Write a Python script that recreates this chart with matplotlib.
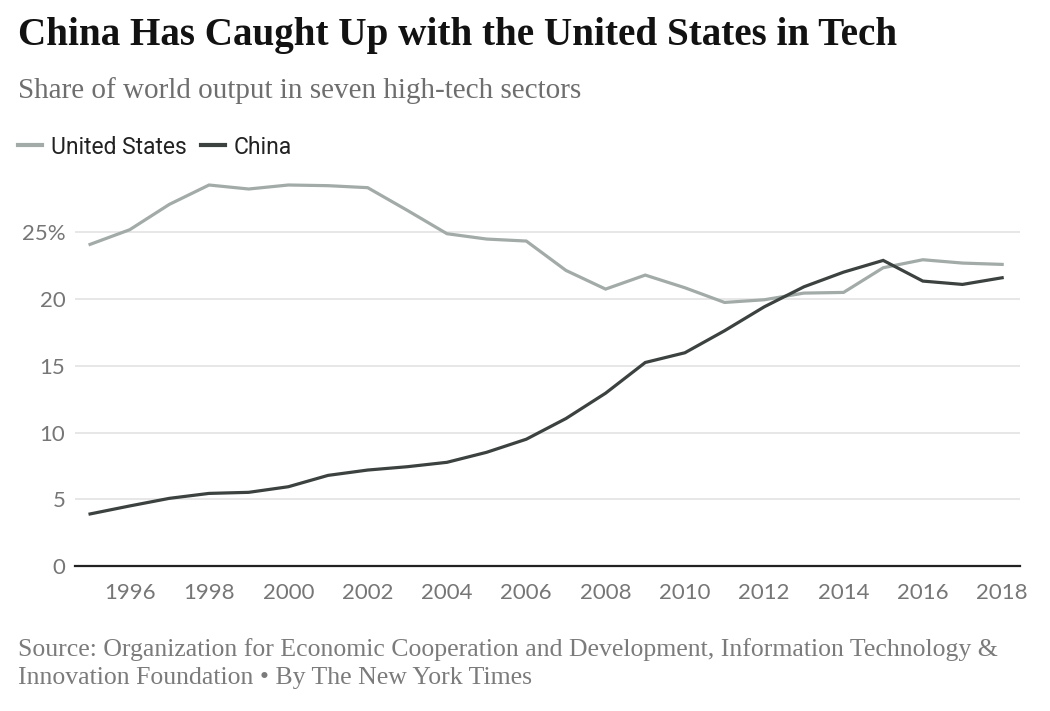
import matplotlib
matplotlib.use("Agg")
import matplotlib.pyplot as plt
from matplotlib.lines import Line2D

years = list(range(1995, 2019))
us = [24.1, 25.2, 27.1, 28.55, 28.25, 28.55, 28.5, 28.35, 26.65, 24.9, 24.5, 24.35,
      22.15, 20.75, 21.8, 20.85, 19.75, 19.95, 20.45, 20.5, 22.35, 22.95, 22.7, 22.6]
china = [3.9, 4.5, 5.07, 5.44, 5.52, 5.94, 6.79, 7.19, 7.44, 7.77, 8.52, 9.5,
         11.05, 12.95, 15.25, 15.98, 17.63, 19.42, 20.92, 22.02, 22.9, 21.35, 21.1, 21.6]
yticks = [0, 5, 10, 15, 20, 25]
ytick_labels = ["0", "5", "10", "15", "20", "25%"]
xticks = list(range(1996, 2019, 2))

title = "China Has Caught Up with the United States in Tech"
subtitle = "Share of world output in seven high-tech sectors"
source1 = "Source: Organization for Economic Cooperation and Development, Information Technology &"
source2 = "Innovation Foundation \u2022 By The New York Times"

US_COLOR = "#a2aba8"
CN_COLOR = "#3c4240"
TICK_COLOR = "#767676"

fig = plt.figure(figsize=(10.5, 7.11), dpi=100)
ax = fig.add_axes([75/1050, 1 - 566/711, 945/1050, (566-179)/711])

ax.plot(years, us, color=US_COLOR, lw=2.3, solid_joinstyle="miter", zorder=3)
ax.plot(years, china, color=CN_COLOR, lw=2.3, solid_joinstyle="miter", zorder=4)

ax.set_xlim(1994.62, 2018.45)
ax.set_ylim(0, 29)
ax.set_yticks(yticks)
ax.set_yticklabels(ytick_labels)
ax.set_xticks(xticks)
ax.set_xticklabels([str(x) for x in xticks])
ax.grid(axis="y", color="#e3e3e3", lw=1.2, zorder=0)
ax.grid(axis="x", visible=False)
for s in ["top", "right", "left"]:
    ax.spines[s].set_visible(False)
ax.spines["bottom"].set_color("#222222")
ax.spines["bottom"].set_linewidth(1.6)
ax.tick_params(axis="both", length=0, labelsize=16, labelcolor=TICK_COLOR)
ax.tick_params(axis="x", pad=12)
ax.tick_params(axis="y", pad=7)
for lab in ax.get_xticklabels() + ax.get_yticklabels():
    lab.set_fontfamily("Lato")

fig.text(18/1050, 1 - 36/711, title, fontsize=28.2, fontweight="bold",
         family="Liberation Serif", color="#121212", va="center", ha="left")
fig.text(18/1050, 1 - 91/711, subtitle, fontsize=21,
         family="Liberation Serif", color="#6e6e6e", va="center", ha="left")

handles = [Line2D([0], [0], color=US_COLOR, lw=3),
           Line2D([0], [0], color=CN_COLOR, lw=3)]
fig.legend(handles, ["United States", "China"], loc="center left",
           bbox_to_anchor=(18/1050, 1 - 147/711), ncol=2, frameon=False,
           borderpad=0, borderaxespad=0,
           handlelength=1.05, handletextpad=0.4, columnspacing=0.6,
           labelcolor="#222222",
           prop={"family": "Roboto", "size": 16.5})

fig.text(18/1050, 1 - 650/711, source1, fontsize=18.5, family="Liberation Serif",
         color="#7b7b7b", va="center", ha="left")
fig.text(18/1050, 1 - 678/711, source2, fontsize=18.5, family="Liberation Serif",
         color="#7b7b7b", va="center", ha="left")

fig.savefig("out.png", dpi=100)
